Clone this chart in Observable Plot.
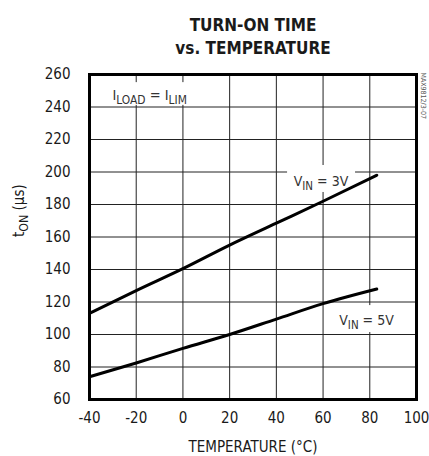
<!DOCTYPE html>
<html><head><meta charset="utf-8">
<script src="https://cdn.jsdelivr.net/npm/d3@7"></script>
<script src="https://cdn.jsdelivr.net/npm/@observablehq/plot@0.6"></script>
<style>
body{margin:0;background:#fff;}
#chart svg{font-family:"Liberation Sans Narrow","DejaVu Sans Condensed","Roboto Condensed",sans-serif;font-stretch:condensed;background:#fff;}
</style></head><body><div id="chart"></div>
<script>
// ---- data ----
const temps = [-40, -20, 0, 20, 40, 60, 83];
const ton3V = [113, 127, 140.5, 155, 168.5, 182, 198];
const ton5V = [74, 82.5, 91.5, 100, 109.5, 119, 128];
const xTicks = [-40, -20, 0, 20, 40, 60, 80, 100];
const yTicks = [60, 80, 100, 120, 140, 160, 180, 200, 220, 240, 260];
const titleLines = ["TURN-ON TIME", "vs. TEMPERATURE"];
const xLabel = "TEMPERATURE (°C)";
const yLabel = "t_{ON} (µs)";
const noteText = "MAX9812/3-07";
const annLabels = ["I_{LOAD} = I_{LIM}", "V_{IN} = 3V", "V_{IN} = 5V"];
const annX = [-30.2, 59.1, 78.6];
const annY = [247, 194.2, 108.6];
const boxX1 = [-38, 44.8, 64.5];
const boxX2 = [8, 73.9, 92.3];
const boxY1 = [241, 187.4, 101.2];
const boxY2 = [255, 204, 117.8];

// ---- tables ----
const series = [
  ...temps.map((t, i) => ({t, v: ton3V[i], s: "3V"})),
  ...temps.map((t, i) => ({t, v: ton5V[i], s: "5V"}))
];
const ann = annLabels.map((l, i) => ({l, x: annX[i], y: annY[i]}));
const boxes = boxX1.map((d, i) => ({x1: d, x2: boxX2[i], y1: boxY1[i], y2: boxY2[i]}));
const ink = "#1a1a1a";

const chart = Plot.plot({
  width: 429, height: 456,
  marginLeft: 89, marginRight: 13, marginTop: 74, marginBottom: 57,
  x: {domain: [-40, 100]},
  y: {domain: [60, 260]},
  marks: [
    Plot.gridX(xTicks, {stroke: "#222", strokeOpacity: 1, strokeWidth: 1}),
    Plot.gridY(yTicks, {stroke: "#222", strokeOpacity: 1, strokeWidth: 1}),
    Plot.rect(boxes, {x1: "x1", x2: "x2", y1: "y1", y2: "y2", fill: "white"}),
    Plot.line(series, {x: "t", y: "v", z: "s", stroke: "black", strokeWidth: 3, curve: "monotone-x"}),
    Plot.frame({stroke: "black", strokeWidth: 3}),
    Plot.axisX(xTicks, {tickSize: 0, tickPadding: 13, fontSize: 15, fill: ink, label: null, tickFormat: d => String(d)}),
    Plot.axisY(yTicks, {tickSize: 0, tickPadding: 19, fontSize: 15, fill: ink, label: null, tickFormat: d => String(d)}),
    Plot.text([ann[0]], {x: "x", y: "y", text: "l", textAnchor: "start", fontSize: 14.5, fill: "#333"}),
    Plot.text(ann.slice(1), {x: "x", y: "y", text: "l", textAnchor: "middle", fontSize: 14, fill: "#333"}),
    Plot.text([titleLines.join("\n")], {frameAnchor: "top", lineAnchor: "top", dy: -61, lineHeight: 1.41, fontSize: 17, fontWeight: "bold", fill: ink}),
    Plot.text([xLabel], {frameAnchor: "bottom", lineAnchor: "middle", dy: 48, fontSize: 15, fill: ink}),
    Plot.text([yLabel], {frameAnchor: "left", lineAnchor: "middle", rotate: -90, dx: -70, fontSize: 15, fill: ink}),
    Plot.text([noteText], {frameAnchor: "top-right", textAnchor: "start", lineAnchor: "middle", rotate: 90, dx: 7, dy: -2, fontSize: 7, fill: "#555"})
  ]
});

// subscripts: turn "_{...}" into real subscript tspans
d3.select(chart).selectAll("text").each(function () {
  const s = this.textContent;
  if (!s.includes("_{") || this.querySelector("tspan")) return;
  const el = d3.select(this);
  el.text("");
  const re = /_\{([^}]*)\}/g;
  let last = 0, m, shifted = false;
  while ((m = re.exec(s))) {
    const before = s.slice(last, m.index);
    if (before) el.append("tspan").attr("dy", shifted ? -4 : null).text(before), shifted = false;
    el.append("tspan").attr("dy", shifted ? 0 : 4).attr("font-size", "82%").text(m[1]);
    shifted = true;
    last = re.lastIndex;
  }
  const rest = s.slice(last);
  if (rest) el.append("tspan").attr("dy", shifted ? -4 : null).text(rest);
});

document.getElementById("chart").append(chart);
</script>
</body></html>
